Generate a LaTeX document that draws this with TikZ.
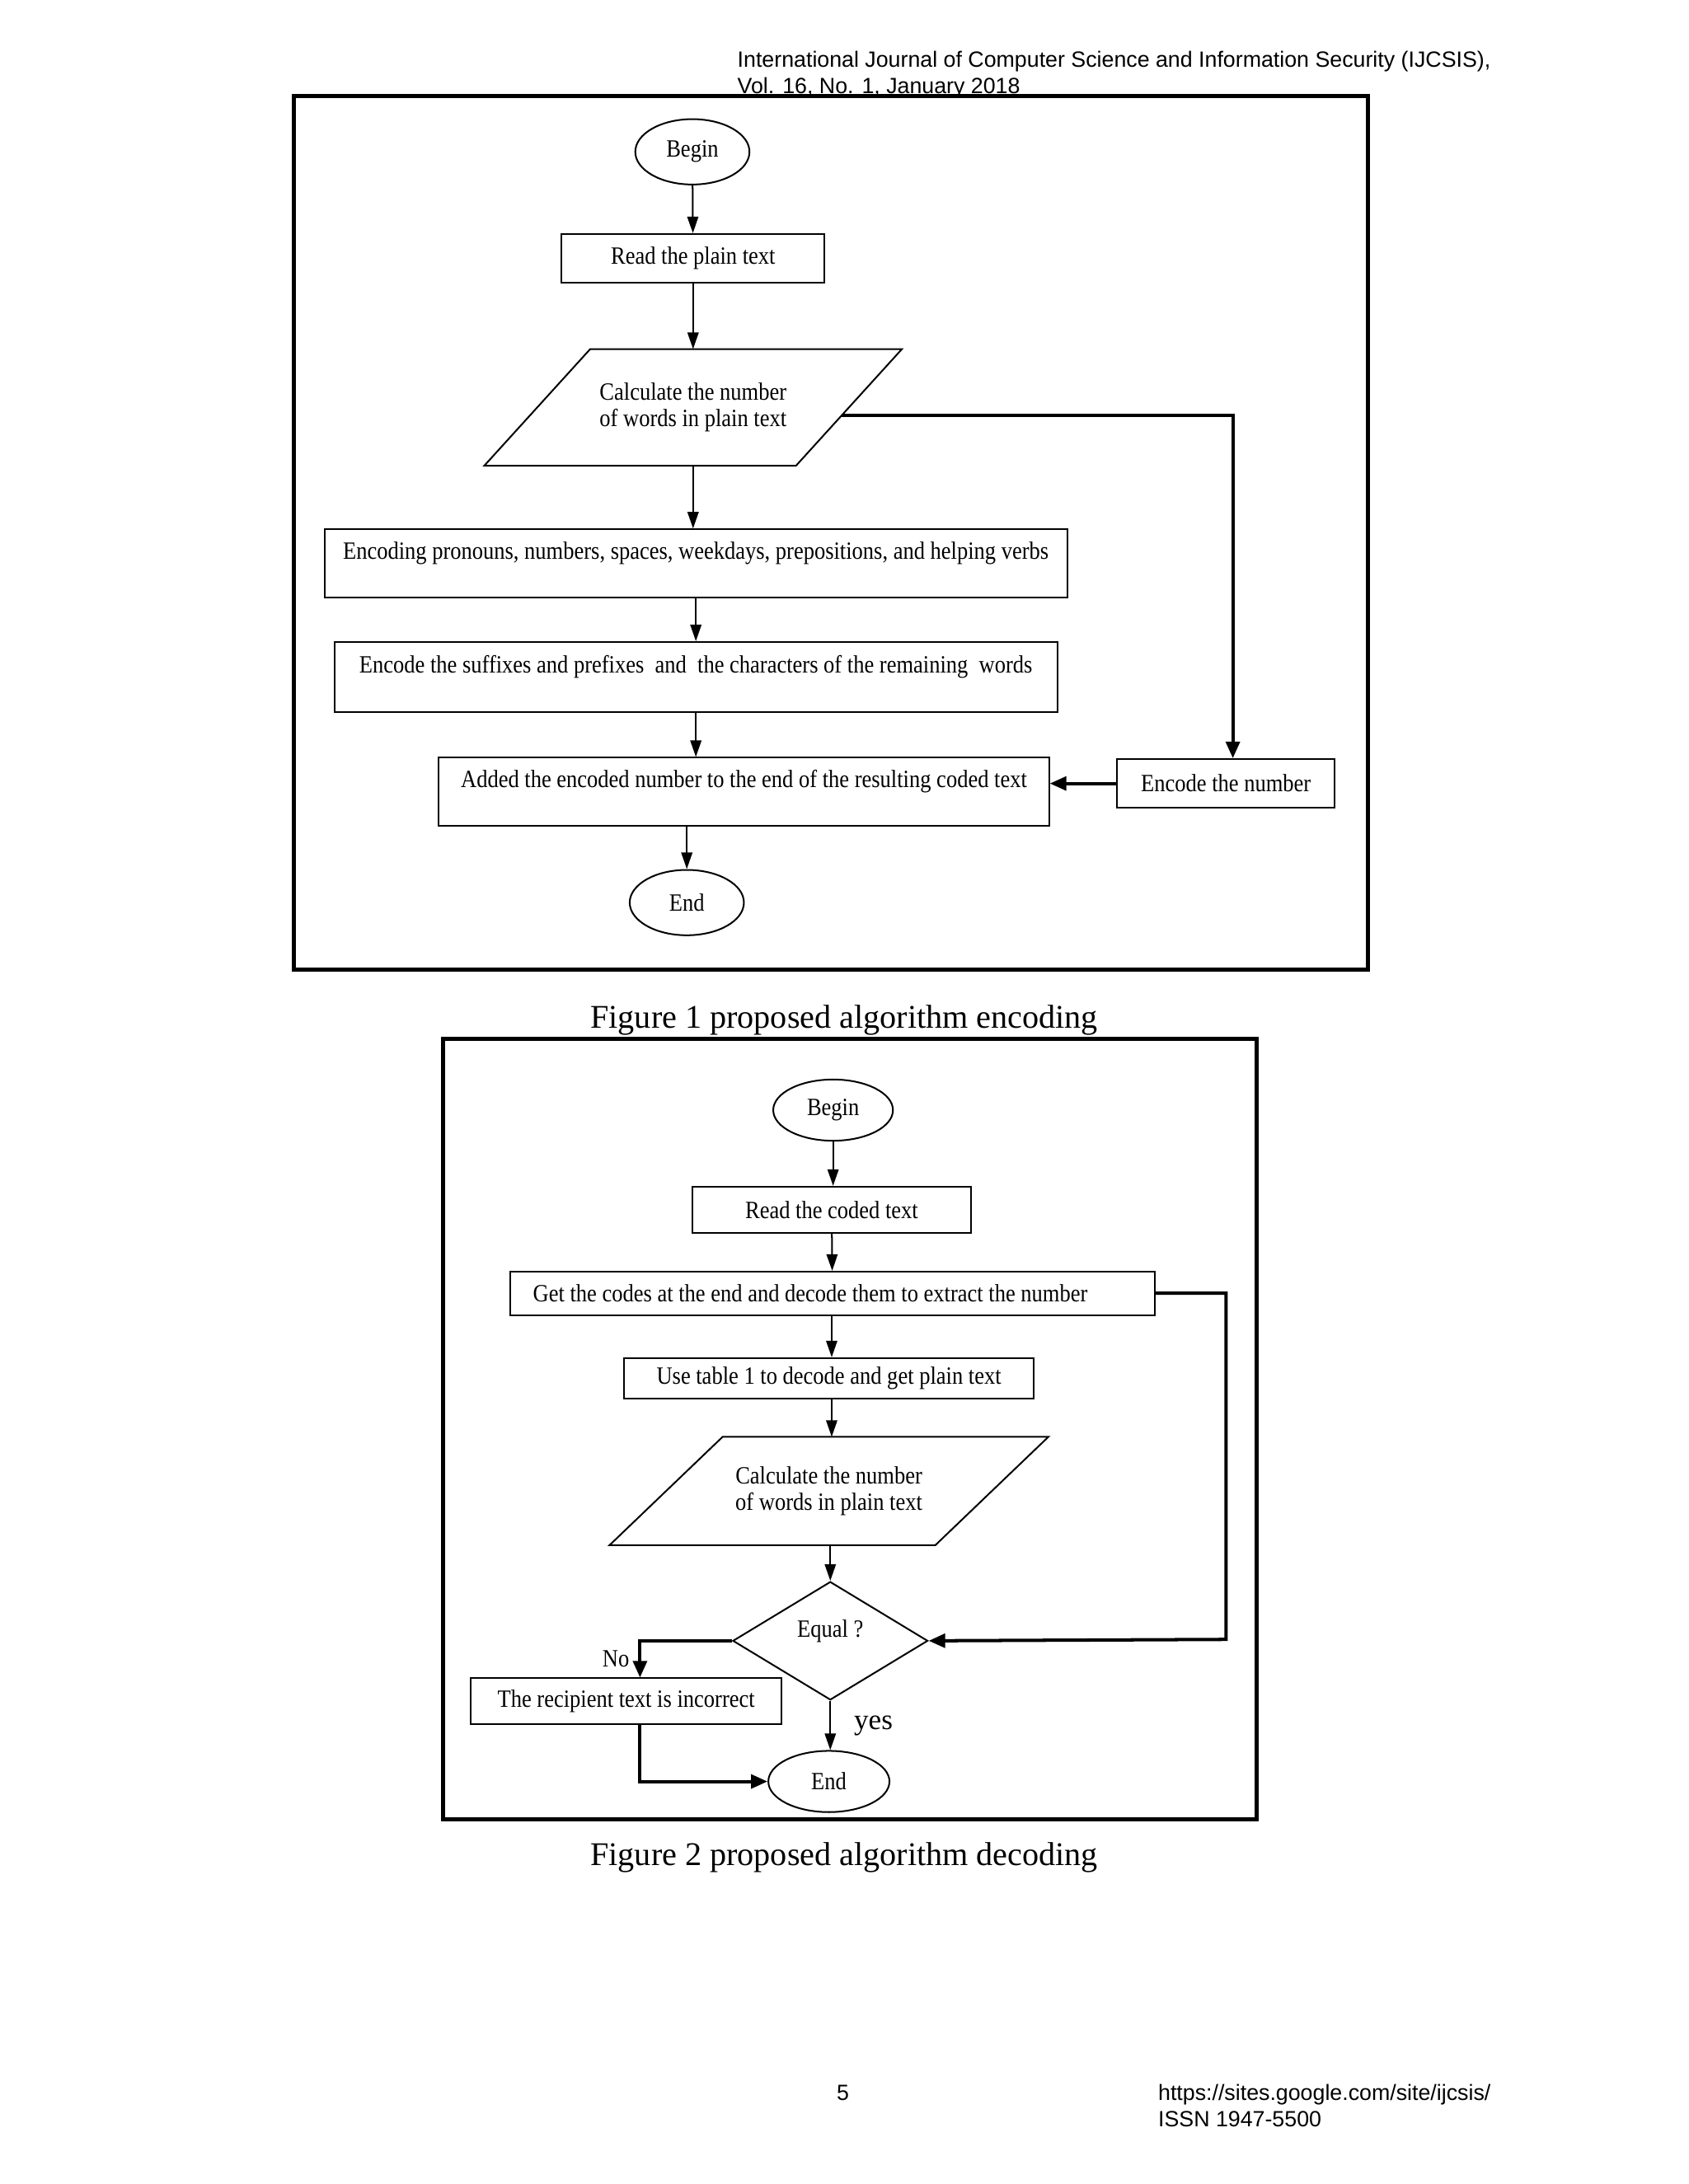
\documentclass[tikz,border=0pt]{standalone}
\usepackage{fontspec}
\setmainfont{Liberation Serif}
\newfontfamily\chartfont[FakeStretch=0.88]{Liberation Serif}
\newfontfamily\pagefont{Liberation Sans}
\usetikzlibrary{arrows.meta,shapes.geometric,calc}

\begin{document}
\begin{tikzpicture}[x=0.505pt,y=-0.505pt,
  chart/.style={font=\fontsize{9}{9.5}\chartfont},
  procbox/.style={chart,draw,line width=0.6pt,rectangle,inner sep=2pt},
  topbox/.style={procbox,text depth=9.5pt},
  termnode/.style={chart,draw,line width=0.6pt,ellipse,inner sep=0pt},
  iobox/.style={chart,rectangle,align=center,inner sep=0pt},
  ioline/.style={line width=0.6pt},
  decision/.style={chart,draw,line width=0.6pt,diamond,inner sep=0pt,text depth=9pt},
  arr/.style={line width=0.6pt,-{Triangle[length=6pt,width=4pt]}},
  fbarr/.style={line width=1.2pt,-{Triangle[length=6pt,width=5pt]}},
  frame/.style={line width=1.5pt},
  caption/.style={font=\fontsize{12}{14}\selectfont,anchor=base},
  pagetext/.style={font=\fontsize{8}{9.6}\pagefont,inner sep=0pt}]

\useasboundingbox[fill=white] (0,0) rectangle (1212,1568);

% page head
\node[pagetext,anchor=base west] (journal) at (529,48) {International Journal of Computer Science and Information Security (IJCSIS),};
\node[pagetext,anchor=base west] (volume) at (529,67) {Vol. 16, No. 1, January 2018};

% figure 1: encoding
\draw[frame] (211,69) rectangle (982,696);
\node[termnode,minimum width=41.4pt,minimum height=23.7pt] (begin1) at (497,109) {Begin};
\node[procbox,minimum width=95.4pt,minimum height=17.7pt] (read1) at (497.5,185.5) {Read the plain text};
\node[iobox,minimum width=112.6pt,minimum height=41.9pt] (calc1) at (497.5,292.5) {Calculate the number\\of words in plain text};
\draw[ioline] ([xshift=19.2pt]calc1.north west) -- ([xshift=19.2pt]calc1.north east)
  -- ([xshift=-19.2pt]calc1.south east) -- ([xshift=-19.2pt]calc1.south west) -- cycle;
\node[topbox,minimum width=269.2pt,minimum height=24.7pt] (enc1) at (499.5,404.5) {Encoding pronouns, numbers, spaces, weekdays, prepositions, and helping verbs};
\node[topbox,minimum width=262.1pt,minimum height=25.3pt] (enc2) at (499.5,486) {Encode the suffixes and prefixes\ \ and\ \ the characters of the remaining\ \ words};
\node[topbox,minimum width=221.2pt,minimum height=24.7pt] (added) at (534,568.5) {Added the encoded number to the end of the resulting coded text};
\node[procbox,minimum width=78.8pt,minimum height=17.7pt] (encnum) at (880,562.5) {Encode the number};
\node[termnode,minimum width=41.4pt,minimum height=23.7pt] (end1) at (493,648) {End};
\coordinate (split1) at ($([xshift=19.2pt]calc1.north east)!0.566!([xshift=-19.2pt]calc1.south east)$);

\draw[arr] (begin1) -- (read1);
\draw[arr] (read1) -- (calc1);
\draw[arr] (calc1.south) -- (calc1.south |- enc1.north);
\draw[arr] (enc1) -- (enc2);
\draw[arr] (enc2.south) -- (enc2.south |- added.north);
\draw[arr] (added.south -| end1) -- (end1);
\draw[fbarr] (split1) -| ([xshift=2.5pt]encnum.north);
\draw[fbarr] (encnum.west) -- (encnum.west -| added.east);

\node[caption] (cap1) at (606,738) {Figure 1 proposed algorithm encoding};

% figure 2: decoding
\draw[frame] (318,746) rectangle (902,1306);
\node[termnode,minimum width=43.4pt,minimum height=22.2pt] (begin2) at (598,797) {Begin};
\node[procbox,minimum width=101pt,minimum height=16.7pt] (read2) at (597,868.5) {Read the coded text};
\node[procbox,minimum width=233.8pt,minimum height=15.7pt,text width=217pt,align=flush left] (getcodes) at (597.5,928.5) {Get the codes at the end and decode them to extract the number};
\node[procbox,minimum width=148.5pt,minimum height=14.6pt] (usetable) at (595,989.5) {Use table 1 to decode and get plain text};
\node[iobox,minimum width=117.7pt,minimum height=38.9pt] (calc2) at (595,1070.5) {Calculate the number\\of words in plain text};
\draw[ioline] ([xshift=20.5pt]calc2.north west) -- ([xshift=20.5pt]calc2.north east)
  -- ([xshift=-20.5pt]calc2.south east) -- ([xshift=-20.5pt]calc2.south west) -- cycle;
\node[decision,minimum width=70.7pt,minimum height=42.9pt] (equal) at (596,1178) {Equal ?};
\node[procbox,minimum width=112.6pt,minimum height=16.7pt] (recip) at (449.5,1221.5) {The recipient text is incorrect};
\node[termnode,minimum width=43.9pt,minimum height=22.2pt] (end2) at (595,1279) {End};
\coordinate (turn2) at (880,1177);

\draw[arr] (begin2.south) -- (begin2.south |- read2.north);
\draw[arr] (read2) -- (getcodes);
\draw[arr] (getcodes.south -| read2) -- (read2 |- usetable.north);
\draw[arr] (usetable.south -| read2) -- (read2 |- calc2.north);
\draw[arr] (calc2.south -| equal) -- (equal.north);
\draw[fbarr] (equal.west) -| node[chart,pos=0.75,left] {No} ([xshift=5pt]recip.north);
\draw[arr] (equal.south) -- node[font=\fontsize{10.5}{12}\selectfont,right=5pt] {yes} (equal.south |- end2.north);
\draw[fbarr] ([xshift=5pt]recip.south) |- (end2.west);
\draw[fbarr] (getcodes.east) -| (turn2) -- (equal.east);

\node[caption] (cap2) at (606,1339) {Figure 2 proposed algorithm decoding};

% page foot
\node[pagetext,anchor=base] (pagenum) at (605,1508) {5};
\node[pagetext,anchor=base west] (site) at (831,1508) {https://sites.google.com/site/ijcsis/};
\node[pagetext,anchor=base west] (issn) at (831,1527) {ISSN 1947-5500};
\end{tikzpicture}
\end{document}
